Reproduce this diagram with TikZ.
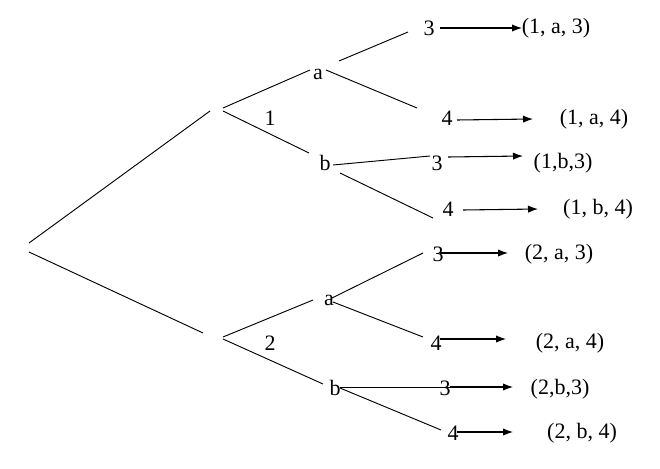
\documentclass[tikz,border=0pt]{standalone}
\usepackage{fontspec}
\setmainfont{Liberation Serif}
\usetikzlibrary{arrows.meta}
\begin{document}
\begin{tikzpicture}[x=0.75pt,y=-0.75pt,
  lbl/.style={inner sep=0pt,font=\fontsize{16.5}{19}\selectfont},
  edge/.style={line width=0.7pt},
  arr/.style={line width=0.8pt,-{Latex[length=7.5pt,width=5.5pt]}}]
\useasboundingbox (0,0) rectangle (660,468);
% labels
\node[lbl] (n1) at (270,118) {1};
\node[lbl] (n2) at (270,343) {2};
\node[lbl] (a1) at (318,74) {a};
\node[lbl] (b1) at (325,163) {b};
\node[lbl] (a2) at (329,300) {a};
\node[lbl] (b2) at (335,388) {b};
\node[lbl] (l1) at (429,28) {3};
\node[lbl] (l2) at (447,118) {4};
\node[lbl] (l3) at (437,163) {3};
\node[lbl] (l4) at (448,209) {4};
\node[lbl] (l5) at (438,254) {3};
\node[lbl] (l6) at (436,343) {4};
\node[lbl] (l7) at (445,388) {3};
\node[lbl] (l8) at (453,433) {4};
\node[lbl] (t1) at (556,28) {(1, a, 3)};
\node[lbl] (t2) at (594,119) {(1, a, 4)};
\node[lbl] (t3) at (563,163) {(1,b,3)};
\node[lbl] (t4) at (598,209) {(1, b, 4)};
\node[lbl] (t5) at (559,254) {(2, a, 3)};
\node[lbl] (t6) at (570,343) {(2, a, 4)};
\node[lbl] (t7) at (560,389) {(2,b,3)};
\node[lbl] (t8) at (582,433) {(2, b, 4)};
% tree lines
\draw[edge] (29,243) coordinate (r1s) -- (210,111) coordinate (r1e);
\draw[edge] (29,252) coordinate (r2s) -- (203,333) coordinate (r2e);
\draw[edge] (223,108) coordinate (p1s) -- (310,70) coordinate (p1e);
\draw[edge] (223,111) coordinate (q1s) -- (309,153) coordinate (q1e);
\draw[edge] (223,337) coordinate (p2s) -- (313,300) coordinate (p2e);
\draw[edge] (223,339) coordinate (q2s) -- (323,384) coordinate (q2e);
\draw[edge] (339,61) coordinate (e1s) -- (408,32) coordinate (e1e);
\draw[edge] (326,70) coordinate (e2s) -- (417,108) coordinate (e2e);
\draw[edge] (333,165) coordinate (e3s) -- (430,156) coordinate (e3e);
\draw[edge] (340,173) coordinate (e4s) -- (433,218) coordinate (e4e);
\draw[edge] (332,298) coordinate (e5s) -- (423,253) coordinate (e5e);
\draw[edge] (333,302) coordinate (e6s) -- (423,337) coordinate (e6e);
\draw[edge] (340,387) coordinate (e7s) -- (450,387) coordinate (e7e);
\draw[edge] (340,388) coordinate (e8s) -- (441,430) coordinate (e8e);
% arrows
\draw[arr] (440,28) -- (522,28);
\draw[arr] (457,120) -- (533,119);
\draw[arr] (448,157) -- (523,156);
\draw[arr] (463,210) -- (538,209);
\draw[arr] (440,253) -- (508,253);
\draw[arr] (440,339) -- (506,339);
\draw[arr] (450,387) -- (513,387);
\draw[arr] (457,432) -- (513,432);
\end{tikzpicture}
\end{document}
